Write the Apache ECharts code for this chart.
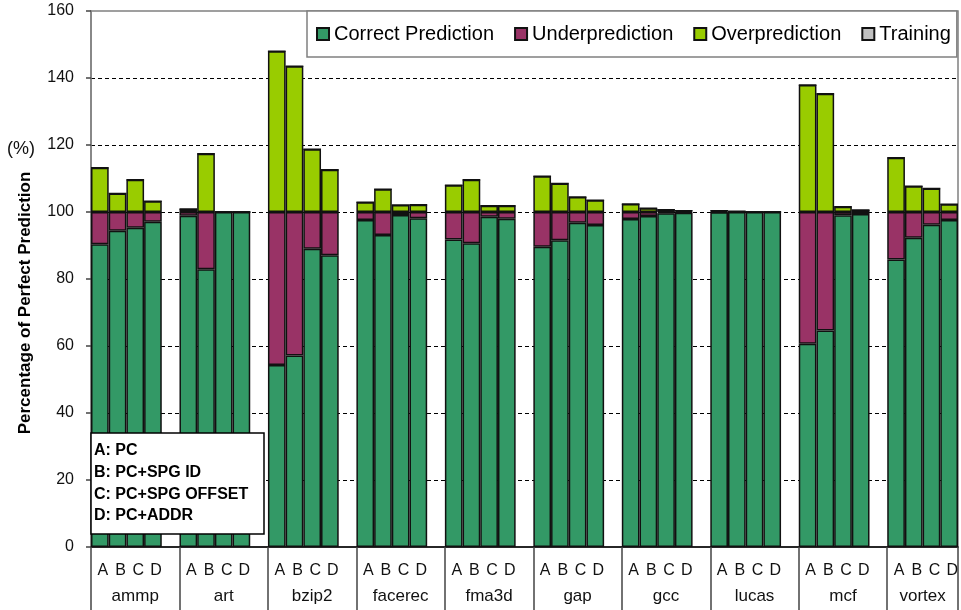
<!DOCTYPE html>
<html>
<head>
<meta charset="utf-8">
<script src="https://cdn.jsdelivr.net/npm/echarts@6/dist/echarts.min.js"></script>
<style>
  html, body { margin: 0; padding: 0; background: #fff; }
  #chart { width: 961px; height: 610px; }
</style>
</head>
<body>
<div id="chart"></div>
<script>
// Benchmarks and predictor configurations
const benchmarks = ['ammp', 'art', 'bzip2', 'facerec', 'fma3d', 'gap', 'gcc', 'lucas', 'mcf', 'vortex'];
const configs = ['A', 'B', 'C', 'D'];
const configNames = ['A: PC', 'B: PC+SPG ID', 'C: PC+SPG OFFSET', 'D: PC+ADDR'];

// Percentages per benchmark, one value per configuration A..D
const correct = [
  [90.4, 94.4, 95.3, 97.1],
  [98.9, 82.9, 100, 100],
  [54.3, 57.2, 89.0, 87.1],
  [97.6, 93.1, 99.1, 98.1],
  [91.8, 90.7, 98.6, 98.0],
  [89.6, 91.6, 96.8, 96.1],
  [97.9, 98.8, 99.6, 99.8],
  [99.9, 100, 100, 100],
  [60.7, 64.6, 99.0, 99.4],
  [85.8, 92.3, 96.2, 97.6]
];
const under = [
  [9.6, 5.6, 4.7, 2.9],
  [1.1, 17.1, 0, 0],
  [45.7, 42.8, 11.0, 12.9],
  [2.4, 6.9, 0.9, 1.9],
  [8.2, 9.3, 1.4, 2.0],
  [10.4, 8.4, 3.2, 3.9],
  [2.1, 1.2, 0.4, 0.2],
  [0.1, 0, 0, 0],
  [39.3, 35.4, 1.0, 0.6],
  [14.2, 7.7, 3.8, 2.4]
];
const over = [
  [13.2, 5.5, 9.6, 3.2],
  [0.9, 17.4, 0, 0],
  [48.0, 43.5, 18.7, 12.6],
  [2.9, 6.8, 2.1, 2.2],
  [8.0, 9.6, 1.9, 1.9],
  [10.7, 8.5, 4.5, 3.5],
  [2.4, 1.1, 0.7, 0.4],
  [0.4, 0.2, 0, 0],
  [37.9, 35.3, 1.6, 0.6],
  [16.2, 7.7, 7.0, 2.3]
];
const training = [
  [0, 0, 0, 0], [0, 0, 0, 0], [0, 0, 0, 0], [0, 0, 0, 0], [0, 0, 0, 0],
  [0, 0, 0, 0], [0, 0, 0, 0], [0, 0, 0, 0], [0, 0, 0, 0], [0, 0, 0, 0]
];

const yTicks = { min: 0, max: 160, step: 20 };

// Flatten the groups into one category axis, with an empty slot between groups
const slotsPerGroup = configs.length + 1;
const slots = [];
benchmarks.forEach((b, g) => {
  configs.forEach((c, k) => slots.push({ label: c, g: g, k: k }));
  if (g < benchmarks.length - 1) slots.push({ label: '', g: -1, k: -1 });
});
// Centre of each group (spacer included, except for the last group)
const groupCenters = benchmarks.map((b, g) =>
  g * slotsPerGroup + (g < benchmarks.length - 1 ? slotsPerGroup : configs.length) / 2);

function column(table) {
  return slots.map(s => s.g < 0 ? '-' : table[s.g][s.k]);
}

const border = { borderColor: '#111', borderWidth: 1.5 };
const seriesDefs = [
  { name: 'Correct Prediction', data: correct, color: '#339966' },
  { name: 'Underprediction', data: under, color: '#993366' },
  { name: 'Overprediction', data: over, color: '#99CC00' },
  { name: 'Training', data: training, color: '#C0C0C0' }
];

const chart = echarts.init(document.getElementById('chart'), null, { renderer: 'canvas' });
chart.setOption({
  animation: false,
  backgroundColor: '#fff',
  textStyle: { fontFamily: 'Liberation Sans, Arial, sans-serif' },
  grid: {
    left: 91, right: 3, top: 11, bottom: 63,
    show: true, borderColor: '#808080', borderWidth: 1.5, backgroundColor: 'transparent'
  },
  title: [
    {
      text: '(%)', left: 7, top: 140, padding: 0,
      textStyle: { fontSize: 18, fontWeight: 'normal', color: '#111' }
    },
    {
      text: configNames.join('\n'), left: 91, top: 433,
      padding: [7, 16, 7, 3],
      backgroundColor: '#fff', borderColor: '#000', borderWidth: 1.5,
      textStyle: { fontSize: 16, fontWeight: 'bold', color: '#000', lineHeight: 21.7 }
    }
  ],
  legend: {
    left: 307, top: 11, width: 700,
    padding: [13, 6, 13, 9],
    itemGap: 20, itemWidth: 12, itemHeight: 12,
    icon: 'rect',
    backgroundColor: '#fff', borderColor: '#808080', borderWidth: 1.5,
    textStyle: { fontSize: 20, color: '#000' },
    data: seriesDefs.map(s => s.name)
  },
  xAxis: [
    {
      type: 'category',
      position: 'bottom',
      data: slots.map(s => s.label),
      axisLine: { lineStyle: { color: '#000', width: 1.5 } },
      axisTick: { show: false },
      axisLabel: { interval: 0, fontSize: 16, color: '#111', margin: 16, padding: [0, 0, 0, 6] },
      splitLine: { show: false }
    },
    {
      // group separators below the axis
      type: 'value', position: 'bottom',
      min: 0, max: slots.length, interval: slotsPerGroup,
      axisLine: { show: false },
      axisTick: { show: true, length: 63, lineStyle: { color: '#444', width: 1.5 } },
      axisLabel: { show: false },
      splitLine: { show: false }
    },
    {
      // benchmark names centred under each group
      type: 'value', position: 'bottom',
      min: 0, max: slots.length, interval: 0.5,
      axisLine: { show: false },
      axisTick: { show: false },
      splitLine: { show: false },
      axisLabel: {
        fontSize: 17, color: '#111', margin: 41,
        showMinLabel: true, showMaxLabel: true,
        formatter: v => {
          const i = groupCenters.findIndex(c => Math.abs(c - v) < 1e-6);
          return i >= 0 ? benchmarks[i] : '';
        }
      }
    }
  ],
  yAxis: {
    type: 'value',
    min: yTicks.min, max: yTicks.max, interval: yTicks.step,
    name: 'Percentage of Perfect Prediction',
    nameLocation: 'middle', nameGap: 57,
    nameTextStyle: { fontSize: 17, fontWeight: 'bold', color: '#000', padding: [0, 48, 0, 0] },
    axisLine: { show: true, lineStyle: { color: '#808080', width: 1.5 } },
    axisTick: { show: true, length: 5, lineStyle: { color: '#444', width: 1.5 } },
    axisLabel: { fontSize: 16, color: '#111', margin: 17 },
    splitLine: { show: true, showMinLine: false, showMaxLine: false, lineStyle: { color: '#000', width: 1, type: [4, 3] } }
  },
  series: seriesDefs.map(s => ({
    name: s.name,
    type: 'bar',
    stack: 'total',
    xAxisIndex: 0,
    barCategoryGap: '0%',
    barGap: '0%',
    itemStyle: Object.assign({ color: s.color }, border),
    emphasis: { disabled: true },
    data: column(s.data)
  }))
});
</script>
</body>
</html>
